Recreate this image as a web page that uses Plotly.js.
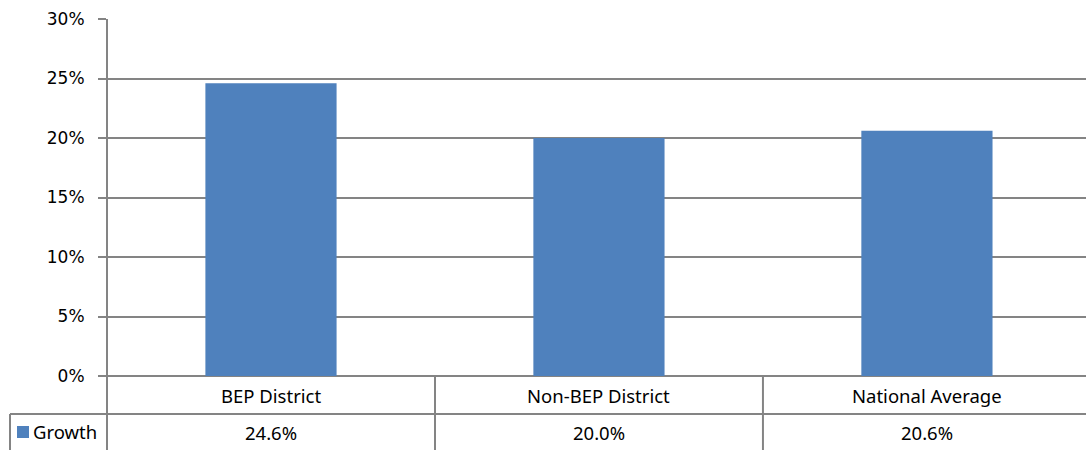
<!DOCTYPE html>
<html><head><meta charset="utf-8">
<script src="https://cdn.plot.ly/plotly-3.0.1.min.js"></script>
<style>body{margin:0;padding:0;background:#fff}#chart{width:1086px;height:450px}</style>
</head><body><div id="chart"></div>
<script>
var categories = ["BEP District", "Non-BEP District", "National Average"];
var growth = [0.246, 0.200, 0.206];
var seriesName = "Growth";
var yTicks = [0, 0.05, 0.10, 0.15, 0.20, 0.25, 0.30];

var gridColor = "#848484";
var barColor = "#4F81BD";
var tableFont = {family: "Noto Sans, Open Sans, sans-serif", size: 18.5, color: "#000"};

var W = 1086, H = 450, mL = 107, mR = 0, mT = 19, mB = 74;
var xr = [-0.5, 2.485];
var plotW = W - mL - mR, plotH = H - mT - mB;
function px2paperX(p){ return (p - mL) / plotW; }
function px2paperY(p){ return (H - mB - p) / plotH; }
function cat2paper(v){ return (v - xr[0]) / (xr[1] - xr[0]); }

var row1Y = px2paperY(414), row2Y = px2paperY(450);
var shapes = [];
for (var i = 0; i < categories.length - 1; i++) {
  var xp = cat2paper(i + 0.5);
  shapes.push({type:"line", xref:"paper", yref:"paper", x0:xp, x1:xp, y0:0, y1:row2Y, line:{color:gridColor, width:2}});
}
shapes.push({type:"line", xref:"paper", yref:"paper", x0:px2paperX(10), x1:1, y0:row1Y, y1:row1Y, line:{color:gridColor, width:2}});
shapes.push({type:"line", xref:"paper", yref:"paper", x0:px2paperX(10), x1:px2paperX(10), y0:row1Y, y1:row2Y, line:{color:gridColor, width:2}});
shapes.push({type:"line", xref:"paper", yref:"paper", x0:0, x1:0, y0:1, y1:row2Y, line:{color:gridColor, width:2}});
shapes.push({type:"rect", xref:"paper", yref:"paper", x0:px2paperX(17), x1:px2paperX(29), y0:px2paperY(438), y1:px2paperY(426), line:{width:0}, fillcolor:barColor});

var annotations = [];
categories.forEach(function(c, i){
  annotations.push({xref:"x", yref:"paper", x:i, y:px2paperY(395), text:c, showarrow:false, font:tableFont, xanchor:"center", yanchor:"middle"});
  annotations.push({xref:"x", yref:"paper", x:i, y:px2paperY(433), text:(growth[i]*100).toFixed(1) + "%", showarrow:false, font:tableFont, xanchor:"center", yanchor:"middle"});
});
annotations.push({xref:"paper", yref:"paper", x:px2paperX(31), y:px2paperY(432), text:seriesName, showarrow:false, font:tableFont, xanchor:"left", yanchor:"middle"});

var data = [{
  type: "bar", x: [0,1,2], y: growth, name: seriesName,
  marker: {color: barColor, line:{width:0}}, width: 0.4, hoverinfo: "none"
}];

var layout = {
  width: W, height: H,
  margin: {l: mL, r: mR, t: mT, b: mB, pad: 0},
  paper_bgcolor: "#fff", plot_bgcolor: "#fff",
  showlegend: false,
  xaxis: {range: xr, showticklabels: false, showgrid: false, zeroline: false, showline: false, ticks: "", fixedrange: true},
  yaxis: {range: [0, 0.30], tickvals: yTicks, tickformat: ".0%", showgrid: true, gridcolor: gridColor, gridwidth: 2,
          zeroline: true, zerolinecolor: gridColor, zerolinewidth: 2, showline: false,
          ticks: "outside", ticklen: 8, tickwidth: 2, tickcolor: gridColor, ticklabelstandoff: 10,
          tickfont: {family: "DejaVu Sans, sans-serif", size: 17, color: "#000"}, fixedrange: true},
  shapes: shapes,
  annotations: annotations
};
Plotly.newPlot("chart", data, layout, {displayModeBar: false, staticPlot: true});
</script>
</body></html>
